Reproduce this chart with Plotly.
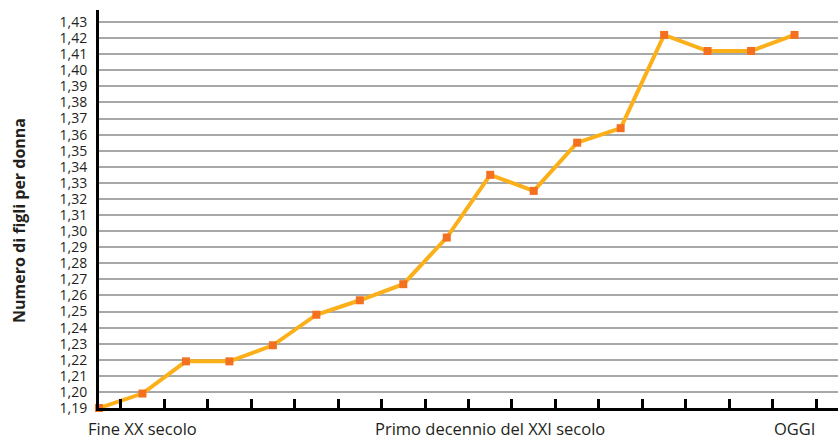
import plotly.graph_objects as go

# Fertility rate (children per woman), from the end of the 20th century to today
periods = list(range(17))
figli_per_donna = [1.190, 1.199, 1.219, 1.219, 1.229, 1.248, 1.257, 1.267, 1.296,
                   1.335, 1.325, 1.355, 1.364, 1.422, 1.412, 1.412, 1.422]

# Text placed under the horizontal axis and the period each one refers to
period_labels = ["Fine XX secolo", "Primo decennio del XXI secolo", "OGGI"]
period_label_pos = [1, 9, 16]

# Tick marks along the horizontal axis, halfway between the points
x_tick_pos = [i + 0.5 for i in range(17)]

y_min, y_max = 1.19, 1.4375
y_ticks = [round(1.19 + i * 0.01, 2) for i in range(25)]

text_color = "#231f20"
font_family = "Open Sans, Liberation Sans, sans-serif"

fig = go.Figure()
fig.add_trace(go.Scatter(
    x=periods,
    y=figli_per_donna,
    mode="lines+markers",
    line=dict(color="#fbb01a", width=4),
    marker=dict(symbol="square", size=8, color="#f37021"),
    cliponaxis=False,
    hoverinfo="skip",
    showlegend=False,
))

fig.update_layout(
    width=838,
    height=440,
    margin=dict(l=99, r=0, t=10, b=32),
    paper_bgcolor="white",
    plot_bgcolor="white",
    separators=",.",
    font=dict(family=font_family, color=text_color, size=14),
    xaxis=dict(
        range=[0, 17],
        showgrid=False,
        zeroline=False,
        showline=True,
        linecolor="black",
        linewidth=3,
        tickmode="array",
        tickvals=x_tick_pos,
        ticktext=[""] * len(x_tick_pos),
        ticks="inside",
        ticklen=9,
        tickwidth=3,
        tickcolor="black",
        fixedrange=True,
    ),
    yaxis=dict(
        range=[y_min, y_max],
        tickmode="array",
        tickvals=y_ticks,
        tickformat=".2f",
        showgrid=True,
        gridcolor="#a7a8aa",
        gridwidth=2,
        zeroline=False,
        showline=True,
        linecolor="black",
        linewidth=3,
        ticks="",
        ticklabelstandoff=6,
        tickfont=dict(size=14, color=text_color),
        fixedrange=True,
    ),
)

for label, pos in zip(period_labels, period_label_pos):
    fig.add_annotation(
        x=pos, y=0, xref="x", yref="paper",
        text=label, showarrow=False,
        xanchor="center", yanchor="top", yshift=-7,
        font=dict(size=16.5, color=text_color),
    )

fig.add_annotation(
    x=0, y=0.47, xref="paper", yref="paper",
    text="<b>Numero di figli per donna</b>",
    textangle=-90, showarrow=False,
    xanchor="center", yanchor="middle", xshift=-80,
    font=dict(size=16, color=text_color),
)

fig.write_html("out.html")
